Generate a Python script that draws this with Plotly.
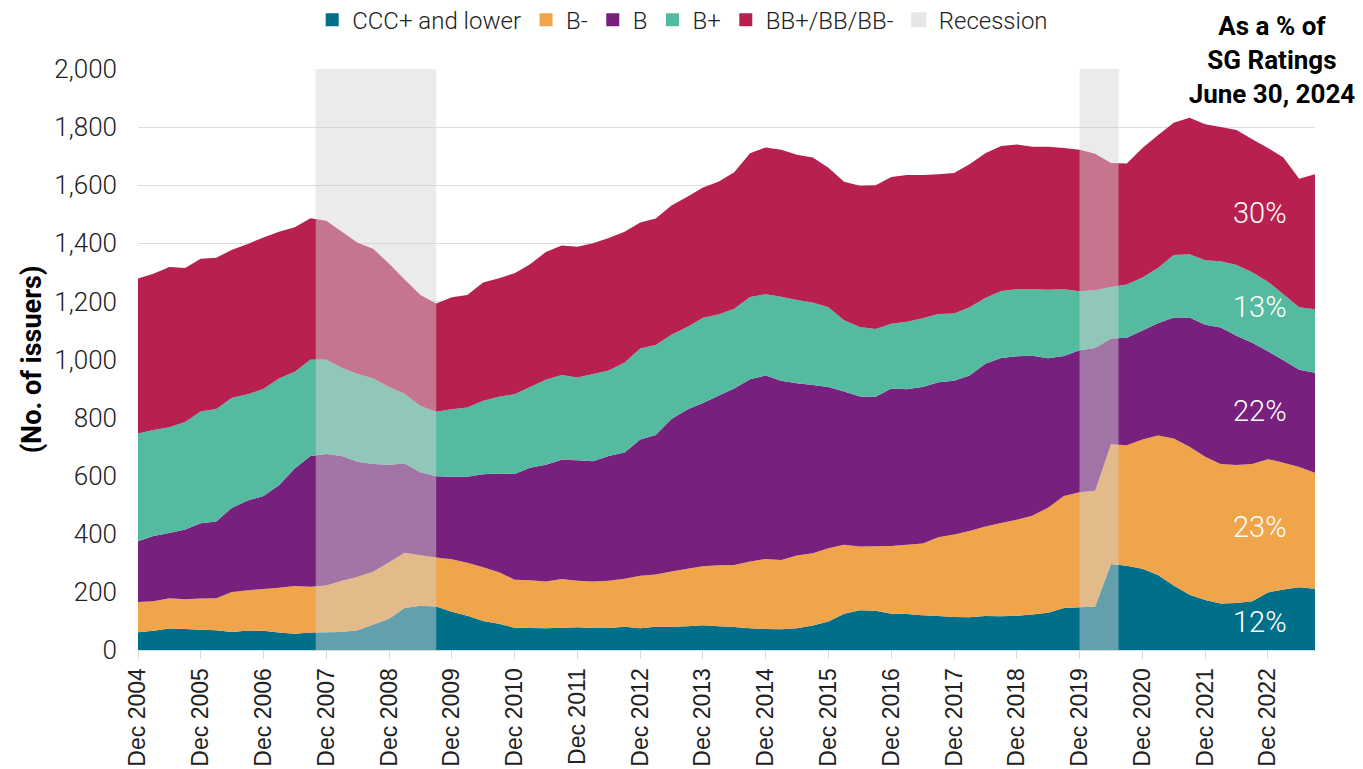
import pandas as pd
import plotly.graph_objects as go

# quarterly observations, Dec 2004 .. Sep 2023 (number of issuers)
quarters = pd.date_range("2004-12-01", periods=76, freq="3MS")

ccc_and_lower = [
    61, 66, 74, 72, 70, 68, 62, 67, 66, 60, 56, 60, 61, 62, 68, 88, 108, 145, 152, 150,
    132, 118, 100, 90, 77, 76, 75, 77, 78, 76, 76, 80, 75, 80, 80, 82, 85, 82, 79, 75,
    72, 71, 75, 84, 98, 125, 137, 135, 125, 124, 120, 117, 114, 113, 117, 116, 118, 122, 128, 145,
    147, 150, 296, 290, 280, 258, 222, 190, 172, 160, 162, 168, 198, 208, 216, 211,
]
b_minus = [
    104, 102, 104, 103, 107, 110, 138, 139, 144, 154, 164, 158, 161, 176, 184, 182, 194, 190, 174, 168,
    180, 182, 185, 178, 165, 164, 161, 167, 160, 160, 162, 165, 181, 180, 190, 198, 203, 210, 214, 230,
    241, 239, 250, 249, 252, 237, 219, 222, 233, 238, 247, 271, 284, 297, 308, 321, 330, 340, 362, 385,
    396, 398, 412, 415, 445, 480, 506, 510, 493, 480, 475, 472, 459, 437, 414, 399,
]
b_mid = [
    209, 224, 225, 240, 259, 264, 290, 309, 320, 353, 405, 450, 453, 430, 396, 370, 336, 307, 286, 280,
    284, 296, 320, 340, 364, 387, 402, 411, 415, 414, 430, 435, 469, 480, 525, 548, 562, 583, 607, 627,
    632, 617, 593, 579, 555, 528, 517, 515, 542, 536, 538, 534, 529, 535, 560, 568, 563, 551, 514, 482,
    489, 492, 364, 370, 375, 387, 417, 445, 455, 470, 445, 418, 371, 352, 335, 344,
]
b_plus = [
    371, 365, 364, 370, 385, 388, 378, 365, 369, 368, 333, 332, 325, 304, 302, 295, 267, 240, 228, 222,
    233, 239, 253, 264, 274, 278, 292, 292, 285, 300, 294, 310, 313, 310, 290, 284, 294, 280, 275, 283,
    280, 289, 287, 284, 275, 245, 239, 233, 223, 232, 237, 235, 231, 235, 227, 231, 231, 229, 236, 230,
    203, 198, 178, 183, 182, 190, 215, 217, 222, 228, 243, 242, 240, 228, 215, 219,
]
bb_range = [
    534, 538, 551, 530, 526, 520, 510, 518, 521, 505, 497, 486, 478, 468, 452, 445, 425, 393, 382, 373,
    385, 387, 407, 408, 417, 423, 440, 445, 450, 450, 456, 450, 434, 435, 445, 448, 448, 457, 470, 495,
    505, 506, 500, 499, 480, 477, 486, 495, 505, 505, 493, 481, 484, 492, 498, 499, 498, 490, 492, 486,
    487, 470, 426, 417, 446, 457, 455, 470, 468, 462, 465, 458, 460, 470, 442, 465,
]

series_names = ["CCC+ and lower", "B-", "B", "B+", "BB+/BB/BB-"]
series_values = [ccc_and_lower, b_minus, b_mid, b_plus, bb_range]
series_colors = ["#00708A", "#F0A54A", "#77207D", "#54BBA0", "#B8204F"]

share_labels = ["12%", "23%", "22%", "13%", "30%"]
share_label_y = [96, 423, 823, 1181, 1504]

recessions = [("2007-10-01", "2009-09-01"), ("2019-12-01", "2020-07-15")]

tick_years = list(range(2004, 2023))
tick_vals = [f"{y}-12-01" for y in tick_years]
tick_text = [f"Dec {y}" for y in tick_years]

fig = go.Figure()

for name, vals, col in zip(series_names, series_values, series_colors):
    fig.add_trace(go.Scatter(
        x=quarters, y=vals, name=name, stackgroup="one", mode="none",
        fillcolor=col, showlegend=False, hoverinfo="skip",
    ))

# legend entries drawn as squares, like the original
for name, col in zip(series_names, series_colors):
    fig.add_trace(go.Scatter(
        x=[None], y=[None], mode="markers", name=name,
        marker=dict(symbol="square", size=13, color=col),
    ))
fig.add_trace(go.Scatter(
    x=[None], y=[None], mode="markers", name="Recession",
    marker=dict(symbol="square", size=15, color="#e6e6e6"),
))

for x0, x1 in recessions:
    fig.add_shape(type="rect", xref="x", yref="y", x0=x0, x1=x1, y0=-10, y1=2000,
                  fillcolor="rgba(213,213,213,0.47)", line_width=0, layer="above")

for txt, yv in zip(share_labels, share_label_y):
    fig.add_annotation(x="2022-10-15", y=yv, text=txt, showarrow=False,
                       font=dict(family="Roboto", size=29, weight=300, color="white"))

fig.add_annotation(
    xref="paper", yref="paper", x=0.9635, y=1.0155, xanchor="center", yanchor="middle",
    text="<b>As a % of<br>SG Ratings<br>June 30, 2024</b>", showarrow=False, align="center",
    font=dict(family="Roboto", size=26, color="black"), bgcolor="white", width=200, borderpad=4,
)

# the page body adds an 8px offset, so the figure is 8px smaller each way
fig.update_layout(
    width=1355, height=761,
    margin=dict(l=130, r=48, t=61, b=119, autoexpand=False),
    plot_bgcolor="white", paper_bgcolor="white",
    font=dict(family="Roboto", color="#222222"),
    legend=dict(orientation="h", traceorder="normal", x=0.148, y=1.084, xanchor="left", yanchor="middle",
                font=dict(family="Roboto", size=24, weight=300, color="#222222"), bgcolor="rgba(0,0,0,0)"),
    xaxis=dict(
        type="date", range=["2004-12-01", "2023-09-01"],
        tickvals=tick_vals, ticktext=tick_text, tickangle=-90,
        tickfont=dict(family="Liberation Sans", size=23, color="#222222"),
        ticks="outside", ticklen=8, tickcolor="#d9d9d9",
        showline=True, linecolor="#d9d9d9", linewidth=1, showgrid=False,
    ),
    yaxis=dict(
        range=[0, 2000], dtick=200, tickformat=",d",
        tickfont=dict(family="Roboto", size=26, weight=300, color="#222222"),
        showgrid=True, gridcolor="#dcdcdc", gridwidth=1, zeroline=False,
        ticklabelstandoff=20,
        title=dict(text="<b>(No. of issuers)</b>", font=dict(family="Roboto", size=27, color="black"),
                   standoff=4),
    ),
)

fig.write_html("out.html")
